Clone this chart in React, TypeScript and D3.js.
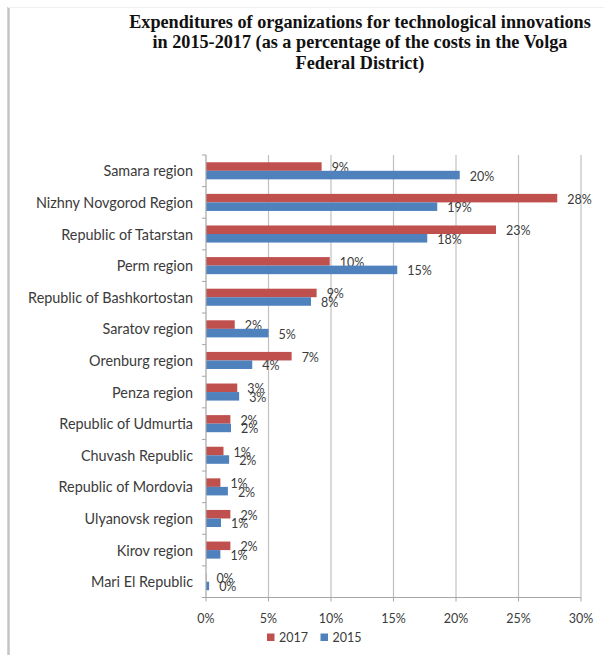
import React from "react";
import * as d3 from "d3";

const categories = [
  "Samara region",
  "Nizhny Novgorod Region",
  "Republic of Tatarstan",
  "Perm region",
  "Republic of Bashkortostan",
  "Saratov region",
  "Orenburg region",
  "Penza region",
  "Republic of Udmurtia",
  "Chuvash Republic",
  "Republic of Mordovia",
  "Ulyanovsk region",
  "Kirov region",
  "Mari El Republic",
];
const values2017 = [9.25, 28.1, 23.2, 9.9, 8.85, 2.3, 6.85, 2.5, 1.95, 1.4, 1.15, 1.95, 1.95, 0.03];
const values2015 = [20.3, 18.5, 17.7, 15.3, 8.4, 5.0, 3.7, 2.65, 2.0, 1.85, 1.75, 1.2, 1.15, 0.25];
const xTicks = [0, 5, 10, 15, 20, 25, 30];
const titleLines = [
  "Expenditures of organizations for technological innovations",
  "in 2015-2017 (as a percentage of the costs in the Volga",
  "Federal District)",
];
const seriesNames = ["2017", "2015"];
const colors = ["#C0504D", "#4F81BD"];

const W = 604;
const H = 655;
const x0 = 206;
const x1 = 581;
const yTop = 155;
const yBot = 597.5;
const font = "Lato, 'Open Sans', sans-serif";
const textColor = "#3b3b3b";

export default function App() {
  const x = d3.scaleLinear().domain([0, 30]).range([x0, x1]);
  const y = d3.scaleBand<string>().domain(categories).range([yTop, yBot]).padding(0);
  const step = y.step();
  const barH = step * 0.27;
  const series = [values2017, values2015];

  return (
    <svg
      width={W}
      height={H}
      style={{ position: "absolute", left: 0, top: 0, background: "#fff" }}
    >
      <rect x={0} y={0} width={W} height={H} fill="#fff" />
      {/* frame */}
      <line x1={8.5} y1={7} x2={8.5} y2={H} stroke="#c4c4c4" strokeWidth={2.5} />
      <line x1={8} y1={7.5} x2={W} y2={7.5} stroke="#efefef" strokeWidth={1} />

      {/* title */}
      {titleLines.map((t, i) => (
        <text
          key={i}
          x={360}
          y={27.5 + i * 20.5}
          textAnchor="middle"
          fontFamily="'Liberation Serif', 'Times New Roman', serif"
          fontWeight="bold"
          fontSize={18.2}
          fill="#111"
        >
          {t}
        </text>
      ))}

      {/* gridlines */}
      {xTicks.slice(1).map((t) => (
        <line key={t} x1={x(t)} x2={x(t)} y1={yTop} y2={yBot} stroke="#c0c0c0" strokeWidth={1.2} />
      ))}

      {/* bars */}
      {categories.map((c, i) => {
        const cy = (y(c) as number) + step / 2;
        return series.map((vals, s) => {
          const by = cy - barH + s * barH;
          return (
            <g key={c + s}>
              <rect x={x(0)} y={by} width={x(vals[i]) - x(0)} height={barH} fill={colors[s]} />
              <text
                x={x(vals[i]) + 10}
                y={by + barH / 2 + 1}
                dominantBaseline="central"
                fontFamily={font}
                fontSize={12.5}
                fill={textColor}
              >
                {Math.round(vals[i]) + "%"}
              </text>
            </g>
          );
        });
      })}

      {/* y axis */}
      <line x1={x0} x2={x0} y1={yTop} y2={yBot} stroke="#a6a6a6" strokeWidth={1.2} />
      {categories.map((c, i) => (
        <line
          key={"t" + i}
          x1={x0 - 4}
          x2={x0}
          y1={y(c) as number}
          y2={y(c) as number}
          stroke="#a6a6a6"
          strokeWidth={1}
        />
      ))}
      <line x1={x0 - 4} x2={x0} y1={yBot} y2={yBot} stroke="#a6a6a6" strokeWidth={1} />
      {categories.map((c) => (
        <text
          key={"l" + c}
          x={193}
          y={(y(c) as number) + step / 2}
          textAnchor="end"
          dominantBaseline="central"
          fontFamily={font}
          fontSize={14.4}
          fill={textColor}
        >
          {c}
        </text>
      ))}

      {/* x axis */}
      <line x1={x0} x2={x1} y1={yBot} y2={yBot} stroke="#a6a6a6" strokeWidth={1.2} />
      {xTicks.map((t) => (
        <g key={"x" + t}>
          <line x1={x(t)} x2={x(t)} y1={yBot} y2={yBot + 4} stroke="#a6a6a6" strokeWidth={1} />
          <text
            x={x(t)}
            y={618}
            textAnchor="middle"
            dominantBaseline="central"
            fontFamily={font}
            fontSize={12.5}
            fill={textColor}
          >
            {t + "%"}
          </text>
        </g>
      ))}

      {/* legend */}
      {seriesNames.map((n, i) => (
        <g key={n} transform={`translate(${267 + i * 53.5},0)`}>
          <rect x={0} y={633.5} width={7.5} height={7.5} fill={colors[i]} />
          <text
            x={12}
            y={637.5}
            dominantBaseline="central"
            fontFamily={font}
            fontSize={12.5}
            fill={textColor}
          >
            {n}
          </text>
        </g>
      ))}
    </svg>
  );
}
